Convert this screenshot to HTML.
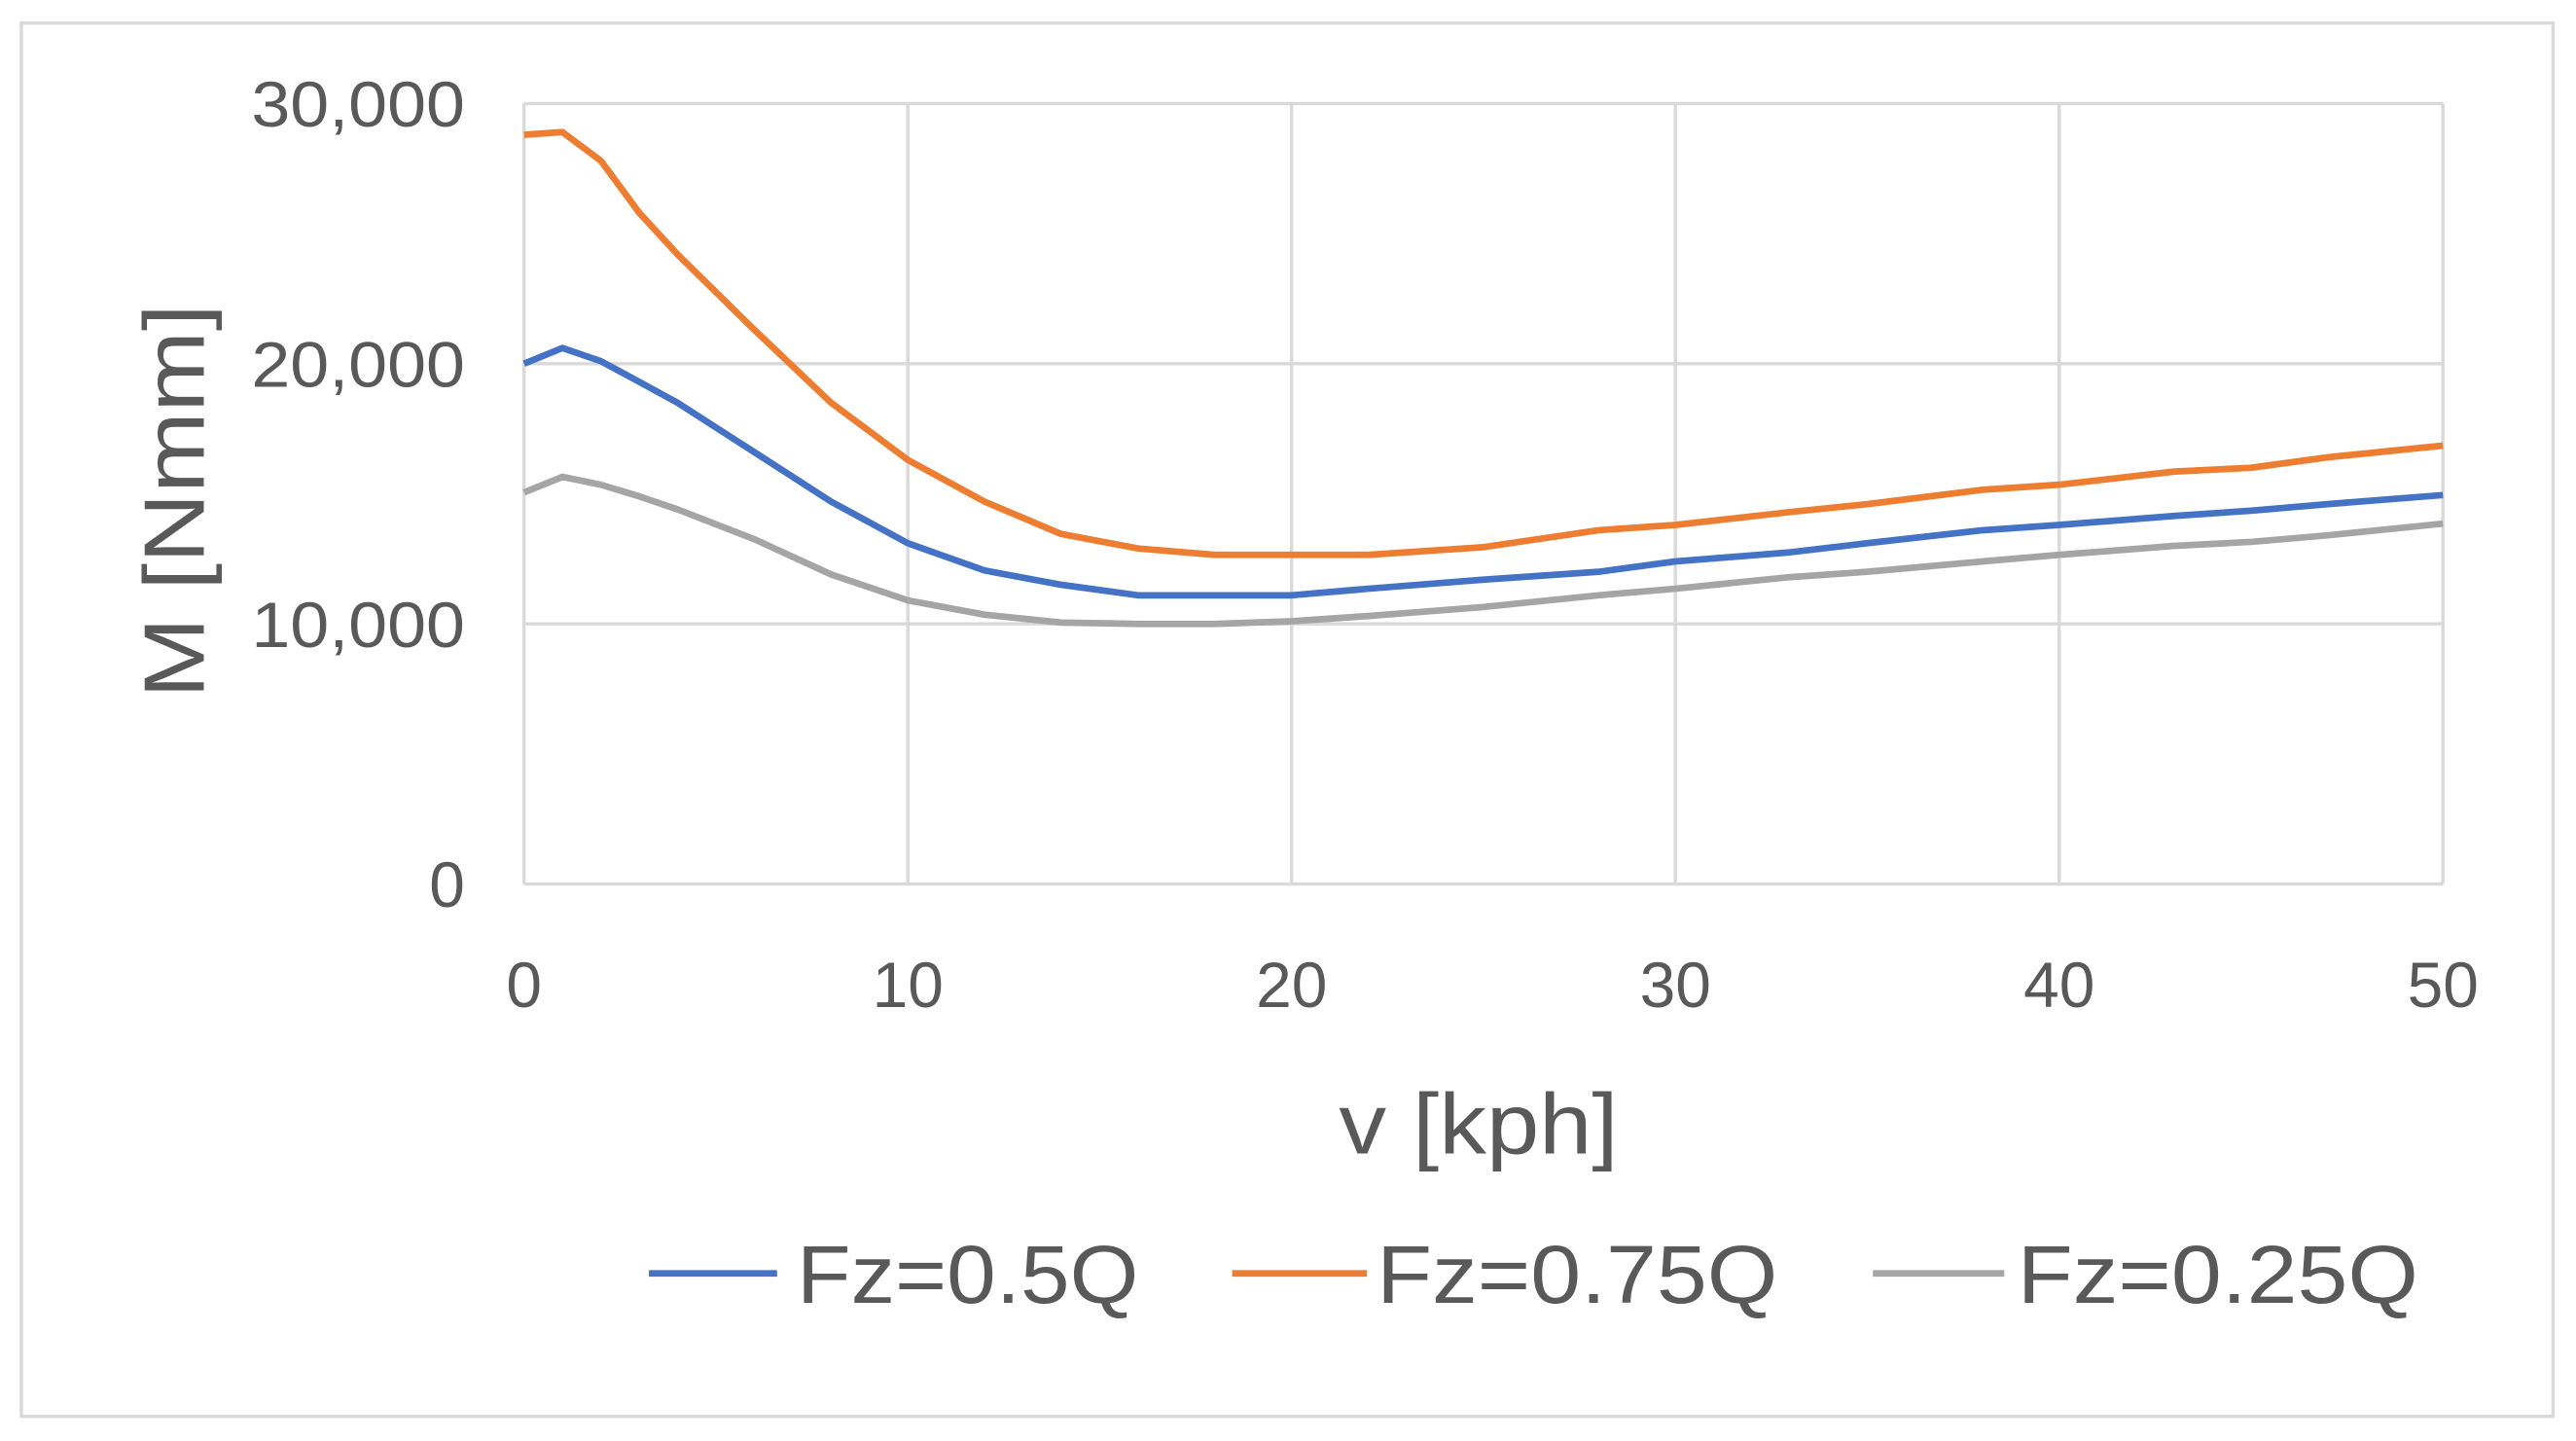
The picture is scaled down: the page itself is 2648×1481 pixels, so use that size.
<!DOCTYPE html>
<html><head><meta charset="utf-8"><style>
html,body{margin:0;padding:0;background:#fff;}
svg{display:block;}
text{font-family:"Liberation Sans",sans-serif;fill:#595959;}
</style></head><body>
<svg id="chart" width="2648" height="1481" viewBox="0 0 1568 877" preserveAspectRatio="none" xmlns="http://www.w3.org/2000/svg">
<rect x="13" y="14" width="1541" height="848" fill="#fff" stroke="#d9d9d9" stroke-width="2"/>
<g id="grid"></g><g id="series"></g><g id="labels"></g>
<text transform="translate(124,305) rotate(-90)" text-anchor="middle" font-size="52" textLength="240" lengthAdjust="spacingAndGlyphs">M [Nmm]</text>
<text x="900" y="702" text-anchor="middle" font-size="52" textLength="170" lengthAdjust="spacingAndGlyphs">v [kph]</text>
<g>
<line x1="395" y1="775" x2="473" y2="775" stroke="#4472c4" stroke-width="4"/>
<text x="485" y="793" font-size="50" textLength="208" lengthAdjust="spacingAndGlyphs">Fz=0.5Q</text>
<line x1="750" y1="775" x2="832" y2="775" stroke="#ed7d31" stroke-width="4"/>
<text x="838" y="793" font-size="50" textLength="244" lengthAdjust="spacingAndGlyphs">Fz=0.75Q</text>
<line x1="1140" y1="775" x2="1220" y2="775" stroke="#a5a5a5" stroke-width="4"/>
<text x="1228" y="793" font-size="50" textLength="244" lengthAdjust="spacingAndGlyphs">Fz=0.25Q</text>
</g>
</svg>
<script>
const xValues=[0,1,2,3,4,6,8,10,12,14,16,18,20,22,25,28,30,33,35,38,40,43,45,47,50];
const seriesOrange=[28800,28900,27800,25800,24200,21300,18500,16300,14700,13450,12900,12650,12650,12650,12950,13600,13800,14300,14600,15150,15350,15850,16000,16400,16850];
const seriesBlue=[20000,20600,20100,19300,18500,16600,14700,13100,12050,11500,11100,11100,11100,11350,11700,12000,12400,12750,13100,13600,13800,14150,14350,14600,14950];
const seriesGray=[15050,15650,15350,14900,14400,13250,11900,10900,10350,10050,10000,10000,10100,10300,10650,11100,11350,11800,12000,12400,12650,13000,13150,13400,13850];
const xTicks=[0,10,20,30,40,50];
const yTicks=[0,10000,20000,30000];
const yTickLabels=["0","10,000","20,000","30,000"];

const L=319,R=1487,T=63,B=538;
const xs=v=>L+(v-0)/(50-0)*(R-L);
const ys=v=>B-(v/30000)*(B-T);
const NS="http://www.w3.org/2000/svg";
const grid=document.getElementById('grid'),ser=document.getElementById('series'),lab=document.getElementById('labels');
function mk(tag,attrs,parent){const e=document.createElementNS(NS,tag);for(const k in attrs)e.setAttribute(k,attrs[k]);parent.appendChild(e);return e;}
xTicks.forEach(t=>{
  const l=mk('line',{x1:xs(t),x2:xs(t),y1:T,y2:B,stroke:'#d9d9d9','stroke-width':2},grid);
  
  
  const tx=mk('text',{x:xs(t),y:613,'text-anchor':'middle','font-size':39},lab);
  tx.textContent=String(t);
  
  
});
yTicks.forEach((t,i)=>{
  const l=mk('line',{x1:L,x2:R,y1:ys(t),y2:ys(t),stroke:'#d9d9d9','stroke-width':2},grid);
  
  
  const attrs={x:283,y:ys(t)+14,'text-anchor':'end','font-size':39};
  if(yTickLabels[i].length>1){attrs.textLength=130;attrs.lengthAdjust='spacingAndGlyphs';}
  const tx=mk('text',attrs,lab);
  tx.textContent=yTickLabels[i];
  
  
});
[[seriesGray,'#a5a5a5','line-fz-0.25q'],[seriesBlue,'#4472c4','line-fz-0.5q'],[seriesOrange,'#ed7d31','line-fz-0.75q']].forEach(([d,c,n])=>{
  const pts=d.map((v,i)=>xs(xValues[i]).toFixed(1)+','+ys(v).toFixed(1)).join(' ');
  const p=mk('polyline',{points:pts,fill:'none',stroke:c,'stroke-width':4,'stroke-linejoin':'round'},ser);
  
  
});
</script>
</body></html>
